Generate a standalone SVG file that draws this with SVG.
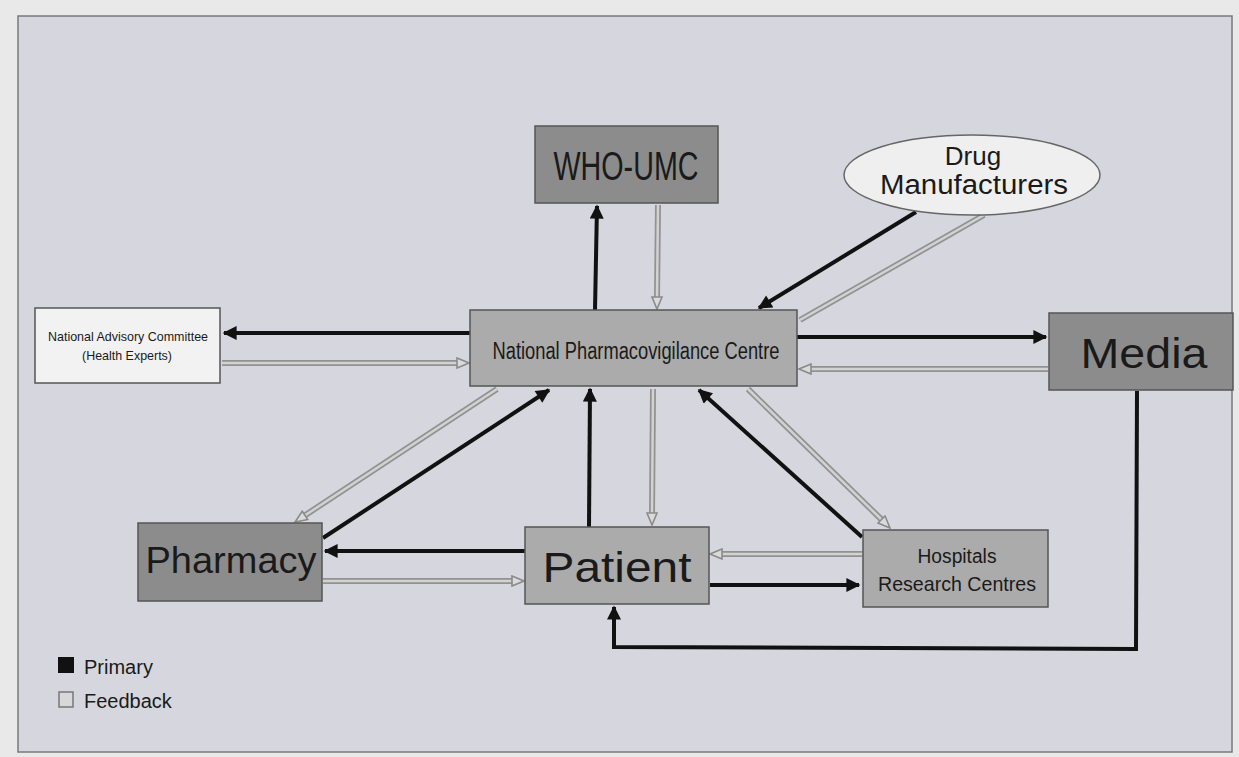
<svg xmlns="http://www.w3.org/2000/svg" width="1239" height="757" viewBox="0 0 1239 757">
<defs>
<style>
.box{stroke:#555;stroke-width:1.5}
.dark{fill:#8c8c8c}
.mid{fill:#ababab}
.light{fill:#f2f2f2}
.t{font-family:"Liberation Sans",Arial,sans-serif;fill:#1a1a1a}
.pri{fill:none;stroke:#111;stroke-width:4}
.fbo{fill:none;stroke:#929292;stroke-width:6}
.fbi{fill:none;stroke:#d2d2d2;stroke-width:2.5}
</style>
<marker id="ah" viewBox="0 0 10 10" refX="9" refY="5" markerWidth="4" markerHeight="3.5" orient="auto" markerUnits="strokeWidth">
<path d="M0,0 L10,5 L0,10 z" fill="#111"/>
</marker>
<marker id="fh" viewBox="0 0 14 12" refX="13" refY="6" markerWidth="14" markerHeight="12" orient="auto" markerUnits="userSpaceOnUse">
<path d="M1,1 L13,6 L1,11 z" fill="#dadada" stroke="#8a8a8a" stroke-width="1.6"/>
</marker>
</defs>
<rect x="0" y="0" width="1239" height="757" fill="#e9e9ea"/>
<rect x="18" y="16" width="1214" height="736" fill="#d6d7de" stroke="#7a7a7a" stroke-width="1.5"/>

<g id="connectors">
<!-- primary -->
<path class="pri" d="M595,310 L597,206" marker-end="url(#ah)"/>
<path class="pri" d="M916,212 L759,308" marker-end="url(#ah)"/>
<path class="pri" d="M470,333 L224,333" marker-end="url(#ah)"/>
<path class="pri" d="M797,337 L1046,337" marker-end="url(#ah)"/>
<path class="pri" d="M323,538 L549,390" marker-end="url(#ah)"/>
<path class="pri" d="M589,527 L590,389" marker-end="url(#ah)"/>
<path class="pri" d="M862,537 L699,390" marker-end="url(#ah)"/>
<path class="pri" d="M525,551 L325,551" marker-end="url(#ah)"/>
<path class="pri" d="M710,585 L859,585" marker-end="url(#ah)"/>
<path class="pri" d="M1137,391 L1136,649 L614,647 L614,607" marker-end="url(#ah)"/>
<!-- feedback -->
<g id="fb-who-npc"><path class="fbo" d="M658,205 L657,298"/><path class="fbi" d="M658,205 L657,298"/><path d="M657,296 L657,309" fill="none" stroke="none" marker-end="url(#fh)"/></g>
<g id="fb-npc-drug"><path class="fbo" d="M800,320 L984,215"/><path class="fbi" d="M800,320 L984,215"/></g>
<g id="fb-nac-npc"><path class="fbo" d="M222,363 L458,363"/><path class="fbi" d="M222,363 L458,363"/><path d="M456,363 L469,363" fill="none" stroke="none" marker-end="url(#fh)"/></g>
<g id="fb-media-npc"><path class="fbo" d="M1048,369 L810,369"/><path class="fbi" d="M1048,369 L810,369"/><path d="M812,369 L799,369" fill="none" stroke="none" marker-end="url(#fh)"/></g>
<g id="fb-npc-pharm"><path class="fbo" d="M497,389 L304,516"/><path class="fbi" d="M497,389 L304,516"/><path d="M306,514.7 L295,522" fill="none" stroke="none" marker-end="url(#fh)"/></g>
<g id="fb-npc-patient"><path class="fbo" d="M653,389 L652,514"/><path class="fbi" d="M653,389 L652,514"/><path d="M652,512 L652,525" fill="none" stroke="none" marker-end="url(#fh)"/></g>
<g id="fb-npc-hosp"><path class="fbo" d="M748,389 L882,520"/><path class="fbi" d="M748,389 L882,520"/><path d="M880.5,518.5 L890,528" fill="none" stroke="none" marker-end="url(#fh)"/></g>
<g id="fb-pharm-patient"><path class="fbo" d="M323,581 L513,581"/><path class="fbi" d="M323,581 L513,581"/><path d="M511,581 L524,581" fill="none" stroke="none" marker-end="url(#fh)"/></g>
<g id="fb-hosp-patient"><path class="fbo" d="M862,554 L721,554"/><path class="fbi" d="M862,554 L721,554"/><path d="M723,554 L710,554" fill="none" stroke="none" marker-end="url(#fh)"/></g>
</g>

<g id="who">
<rect class="box dark" x="535" y="126" width="183" height="77"/>
<text class="t" x="626" y="180" font-size="40" text-anchor="middle" textLength="145" lengthAdjust="spacingAndGlyphs">WHO-UMC</text>
</g>
<g id="drug">
<ellipse cx="972" cy="175" rx="128" ry="40" fill="#efefef" stroke="#666" stroke-width="1.5"/>
<text class="t" x="973" y="165" font-size="26" text-anchor="middle" fill="#2a2a2a">Drug</text>
<text class="t" x="974" y="194" font-size="27" text-anchor="middle" textLength="188" lengthAdjust="spacingAndGlyphs">Manufacturers</text>
</g>
<g id="npc">
<rect class="box mid" x="470" y="310" width="327" height="76"/>
<text class="t" x="636" y="359" font-size="23" text-anchor="middle" textLength="287" lengthAdjust="spacingAndGlyphs">National Pharmacovigilance Centre</text>
</g>
<g id="nac">
<rect class="box light" x="35" y="308" width="185" height="75"/>
<text class="t" x="128" y="341" font-size="13" text-anchor="middle" textLength="160" lengthAdjust="spacingAndGlyphs">National Advisory Committee</text>
<text class="t" x="127" y="360" font-size="13" text-anchor="middle" textLength="90" lengthAdjust="spacingAndGlyphs">(Health Experts)</text>
</g>
<g id="media">
<rect class="box dark" x="1049" y="313" width="184" height="77"/>
<text class="t" x="1144" y="368" font-size="43" text-anchor="middle" textLength="127" lengthAdjust="spacingAndGlyphs">Media</text>
</g>
<g id="pharmacy">
<rect class="box dark" x="138" y="523" width="184" height="78"/>
<text class="t" x="231" y="573" font-size="37" text-anchor="middle" textLength="171" lengthAdjust="spacingAndGlyphs">Pharmacy</text>
</g>
<g id="patient">
<rect class="box mid" x="525" y="527" width="184" height="77"/>
<text class="t" x="617" y="582" font-size="43" text-anchor="middle" textLength="149" lengthAdjust="spacingAndGlyphs">Patient</text>
</g>
<g id="hospitals">
<rect class="box mid" x="863" y="530" width="185" height="77"/>
<text class="t" x="957" y="563" font-size="20" text-anchor="middle" textLength="79" lengthAdjust="spacingAndGlyphs">Hospitals</text>
<text class="t" x="957" y="591" font-size="21" text-anchor="middle" textLength="158" lengthAdjust="spacingAndGlyphs">Research Centres</text>
</g>
<g id="legend">
<rect x="58" y="657" width="16" height="16" fill="#111"/>
<text class="t" x="84" y="674" font-size="20">Primary</text>
<rect x="59" y="692" width="14" height="15" fill="#d8d8d8" stroke="#777" stroke-width="1.5"/>
<text class="t" x="84" y="708" font-size="20">Feedback</text>
</g>
</svg>
